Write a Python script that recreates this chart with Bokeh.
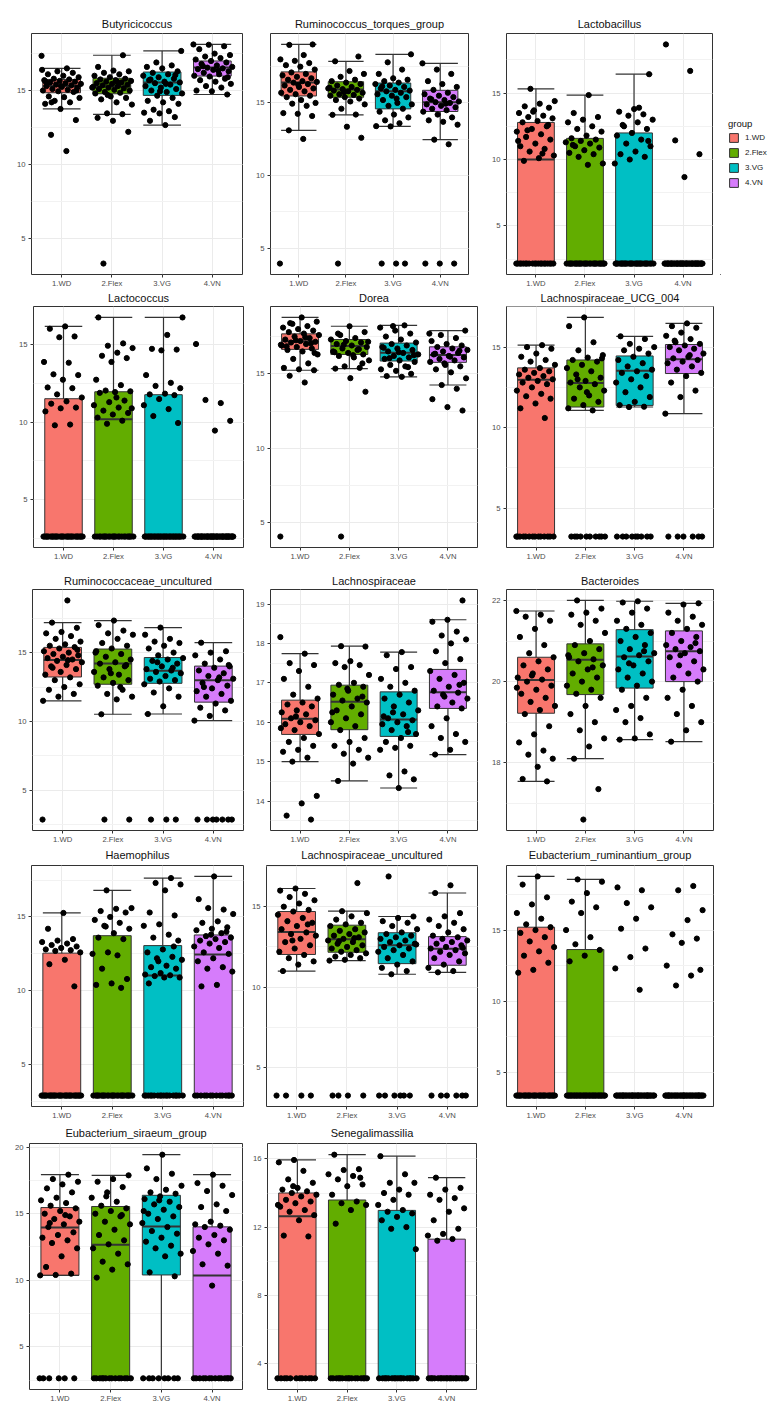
from bokeh.plotting import figure
from bokeh.models import Range1d, FixedTicker, SingleIntervalTicker, ColumnDataSource, Legend, LegendItem
from bokeh.layouts import column, row
from bokeh.embed import file_html
from bokeh.resources import INLINE

GROUPS = ["1.WD", "2.Flex", "3.VG", "4.VN"]
COLORS = ["#F8766D", "#62AD00", "#00BFC4", "#D67CFB"]

# box stats per group: [lower whisker, q1, median, q3, upper whisker]
BUTY_STATS = [[13.75, 14.85, 15.3, 15.75, 16.5], [13.39, 14.78, 15.27, 15.83, 17.39],
              [12.66, 14.67, 15.55, 16.25, 17.68], [14.73, 15.98, 16.56, 17.0, 18.12]]
BUTY_PTS = [
    [17.35, 10.9, 12.0, 13.0, 13.75, 14.1, 14.2, 14.3, 14.5, 14.55, 14.6, 14.9, 14.95, 15.0, 15.05, 15.1, 15.2, 15.25, 15.3, 15.35,
     15.4, 15.45, 15.5, 15.55, 15.6, 15.65, 15.7, 15.75, 15.8, 15.9, 16.0, 16.1, 16.2, 16.3, 16.4, 16.5, 14.2, 15.0, 15.3, 15.6],
    [3.28, 12.2, 12.95, 13.15, 13.4, 13.45, 14.05, 14.2, 14.4, 14.5, 14.6, 14.8, 14.85, 14.9, 15.0, 15.05, 15.1, 15.15, 15.2, 15.25,
     15.3, 15.35, 15.4, 15.45, 15.5, 15.55, 15.6, 15.65, 15.7, 15.75, 15.8, 15.9, 16.0, 16.1, 16.2, 16.3, 16.35, 16.6, 17.39, 14.7, 15.2, 15.6],
    [12.66, 12.95, 13.2, 13.45, 13.5, 13.6, 13.7, 14.1, 14.2, 14.3, 14.5, 14.65, 14.8, 14.9, 15.0, 15.1, 15.2, 15.3, 15.4, 15.5,
     15.55, 15.6, 15.7, 15.8, 15.9, 16.0, 16.1, 16.2, 16.3, 16.5, 16.6, 16.7, 16.9, 17.68, 15.45, 15.75, 16.05, 14.95],
    [14.73, 14.95, 15.0, 15.2, 15.3, 15.45, 15.6, 15.7, 15.8, 15.95, 16.0, 16.1, 16.2, 16.3, 16.4, 16.45, 16.5, 16.55, 16.6, 16.7,
     16.8, 16.9, 17.0, 17.1, 17.2, 17.3, 17.4, 17.5, 17.8, 18.0, 18.1, 18.12, 16.35, 16.65, 15.9],
]

RTOR_STATS = [[13.11, 15.48, 16.41, 17.14, 19.03], [14.18, 15.39, 15.93, 16.46, 17.87],
              [13.38, 14.59, 15.8, 16.37, 18.35], [12.47, 14.41, 15.05, 15.87, 17.73]]
RTOR_PTS = [
    [3.93, 12.52, 13.11, 14.1, 14.25, 14.3, 14.8, 14.95, 15.0, 15.2, 15.4, 15.5, 15.6, 15.7, 15.8, 15.9, 16.0, 16.1, 16.2, 16.3,
     16.4, 16.45, 16.5, 16.6, 16.7, 16.8, 16.9, 17.0, 17.1, 17.3, 17.5, 17.6, 17.75, 17.9, 18.0, 18.3, 19.0, 19.03, 16.25],
    [3.93, 12.6, 13.36, 14.18, 14.2, 14.6, 14.9, 15.1, 15.2, 15.3, 15.4, 15.5, 15.55, 15.6, 15.7, 15.8, 15.85, 15.9, 15.95, 16.0,
     16.1, 16.2, 16.3, 16.4, 16.5, 16.6, 16.8, 17.0, 17.2, 17.87, 18.2, 15.75, 16.05],
    [3.93, 3.93, 3.93, 13.38, 13.4, 13.6, 13.8, 14.0, 14.2, 14.4, 14.6, 14.8, 14.9, 15.0, 15.2, 15.4, 15.5, 15.6, 15.7, 15.8,
     15.85, 15.9, 16.0, 16.1, 16.2, 16.3, 16.4, 16.5, 16.6, 16.7, 17.0, 17.3, 17.8, 18.35, 15.3, 16.15],
    [3.93, 3.93, 3.93, 12.15, 12.47, 13.5, 13.7, 13.8, 14.0, 14.2, 14.4, 14.5, 14.6, 14.7, 14.8, 14.9, 15.0, 15.05, 15.1, 15.2,
     15.3, 15.4, 15.5, 15.6, 15.7, 15.9, 16.1, 16.3, 16.5, 17.0, 17.3, 17.73, 14.95, 15.25],
]

LBAC_STATS = [[2.17, 2.17, 10.0, 12.79, 15.32], [2.17, 2.17, 2.17, 11.59, 14.85],
              [2.17, 2.17, 2.17, 12.0, 16.42], [2.17, 2.17, 2.17, 2.17, 2.17]]
LBAC_PTS = [
    [2.17] * 20 + [15.32, 14.4, 14.2, 14.0, 13.9, 13.7, 13.5, 13.3, 13.2, 13.1, 12.9, 12.8, 12.5, 12.3, 12.1, 11.9, 11.7, 11.5,
                   11.2, 11.0, 10.8, 10.6, 10.3, 10.1, 9.9, 12.6, 13.6, 11.4, 10.45, 12.2],
    [2.17] * 28 + [14.85, 13.5, 13.2, 13.0, 12.8, 12.5, 12.3, 12.1, 11.8, 11.6, 11.5, 11.4, 11.3, 11.2, 11.0, 10.9, 10.7, 10.5,
                   10.4, 10.2, 9.7, 9.6, 11.1],
    [2.17] * 28 + [16.42, 13.8, 13.6, 13.4, 13.3, 13.0, 12.8, 12.6, 12.3, 12.0, 11.8, 11.5, 11.2, 11.0, 10.6, 10.4, 10.2, 10.0,
                   9.7, 13.9, 12.5, 11.4],
    [2.17] * 44 + [18.66, 16.67, 11.44, 10.4, 8.68],
]

LCOC_STATS = [[2.6, 2.6, 2.6, 11.52, 16.2], [2.6, 2.6, 10.19, 11.97, 16.78],
              [2.6, 2.6, 2.6, 11.78, 16.78], [2.6, 2.6, 2.6, 2.6, 2.6]]
LCOC_PTS = [
    [2.6] * 30 + [16.2, 16.05, 15.55, 15.5, 13.9, 13.85, 13.1, 13.05, 12.75, 12.25, 12.2, 11.8, 11.6, 11.35, 11.2, 10.95,
                  10.9, 10.7, 9.85, 9.8],
    [2.6] * 24 + [16.78, 15.1, 14.95, 14.8, 14.5, 14.3, 14.15, 13.9, 12.75, 12.4, 12.05, 12.0, 11.95, 11.9, 11.4, 11.3, 11.1,
                  10.95, 10.75, 10.6, 10.5, 10.3, 10.1, 9.9, 10.9, 11.6],
    [2.6] * 33 + [16.78, 15.65, 14.75, 14.7, 14.65, 13.05, 12.55, 12.35, 12.2, 11.85, 11.8, 11.75, 11.5, 11.1, 10.85, 10.4, 9.95],
    [2.6] * 44 + [15.06, 11.24, 11.44, 10.09, 9.46],
]

DORE_STATS = [[15.24, 16.64, 17.19, 17.68, 18.78], [15.35, 16.3, 16.86, 17.3, 18.19],
              [14.8, 15.86, 16.42, 17.06, 18.25], [14.25, 15.77, 16.26, 16.81, 17.9]]
DORE_PTS = [
    [4.09, 14.42, 14.87, 15.24, 15.3, 15.4, 15.7, 16.0, 16.3, 16.5, 16.6, 16.7, 16.8, 16.9, 17.0, 17.1, 17.15, 17.2, 17.3, 17.4,
     17.5, 17.6, 17.7, 17.8, 17.9, 18.0, 18.1, 18.2, 18.35, 18.5, 18.78, 16.85, 17.05, 17.25, 16.95, 17.45, 18.4, 16.4],
    [4.09, 13.8, 14.71, 15.35, 15.4, 15.5, 15.9, 16.1, 16.2, 16.3, 16.4, 16.5, 16.6, 16.7, 16.8, 16.9, 17.0, 17.1, 17.2, 17.3,
     17.4, 17.6, 17.8, 18.19, 16.45, 16.65, 16.95, 17.15, 16.25, 17.7, 15.7],
    [14.8, 14.85, 15.0, 15.2, 15.3, 15.5, 15.6, 15.8, 15.9, 16.0, 16.1, 16.2, 16.3, 16.4, 16.5, 16.6, 16.7, 16.8, 16.9, 17.0,
     17.1, 17.3, 17.5, 17.7, 17.9, 18.1, 18.25, 16.05, 16.25, 16.45, 16.75, 15.45, 18.2],
    [12.54, 12.77, 13.3, 14.0, 14.25, 14.7, 15.1, 15.3, 15.5, 15.6, 15.8, 15.9, 16.0, 16.1, 16.2, 16.3, 16.4, 16.5, 16.6, 16.7,
     16.8, 16.9, 17.0, 17.2, 17.4, 17.6, 17.9, 16.15, 16.35, 16.55, 15.7, 17.7],
]

UCG4_STATS = [[3.24, 3.24, 12.98, 13.71, 15.12], [11.07, 11.28, 12.77, 14.2, 16.84],
              [11.28, 11.38, 13.53, 14.45, 15.67], [10.87, 13.36, 14.24, 15.16, 16.47]]
UCG4_PTS = [
    [3.24] * 14 + [15.12, 15.0, 14.9, 14.6, 14.4, 14.2, 14.1, 13.9, 13.7, 13.6, 13.5, 13.4, 13.3, 13.2, 13.1, 13.0, 12.9,
                   12.8, 12.7, 12.5, 12.3, 12.1, 11.95, 11.8, 11.5, 11.2, 10.6],
    [3.24] * 10 + [16.84, 16.3, 15.3, 14.8, 14.5, 14.35, 14.2, 14.1, 13.9, 13.7, 13.5, 13.3, 13.1, 12.9, 12.8, 12.7, 12.5,
                   12.3, 12.0, 11.8, 11.6, 11.4, 11.2, 11.07, 13.0, 14.3, 12.2],
    [3.24] * 9 + [15.67, 15.5, 15.2, 15.0, 14.9, 14.8, 14.6, 14.4, 14.2, 14.0, 13.8, 13.6, 13.5, 13.4, 13.2, 13.0, 12.8, 12.5,
                  12.2, 11.9, 11.6, 11.4, 11.3, 11.28],
    [3.24] * 6 + [16.47, 16.3, 16.2, 15.9, 15.7, 15.5, 15.3, 15.2, 15.1, 15.0, 14.9, 14.8, 14.6, 14.4, 14.3, 14.2, 14.1, 14.0,
                  13.8, 13.6, 13.4, 13.2, 12.8, 12.3, 11.9, 10.87, 14.5, 15.4],
]

RUNC_STATS = [[11.5, 13.23, 14.47, 15.38, 17.18], [10.52, 12.7, 14.21, 15.26, 17.33],
              [10.54, 12.77, 13.68, 14.64, 16.82], [10.06, 11.4, 13.0, 14.02, 15.72]]
RUNC_PTS = [
    [2.87, 18.79, 17.18, 16.8, 16.5, 16.4, 16.2, 16.0, 15.8, 15.6, 15.5, 15.4, 15.3, 15.1, 15.0, 14.9, 14.8, 14.7, 14.6, 14.5,
     14.4, 14.3, 14.1, 14.0, 13.8, 13.6, 13.4, 13.2, 13.0, 12.7, 12.5, 12.3, 12.0, 11.8, 11.5, 14.45, 13.9, 15.2],
    [2.87, 2.87, 17.33, 17.0, 16.6, 16.4, 16.3, 16.0, 15.7, 15.5, 15.3, 15.1, 14.9, 14.7, 14.5, 14.3, 14.2, 14.0, 13.8, 13.6,
     13.4, 13.2, 13.0, 12.8, 12.6, 12.3, 12.0, 11.8, 11.6, 10.52, 14.1, 13.5, 15.0, 12.5],
    [2.87, 2.87, 2.87, 16.82, 16.3, 16.0, 15.8, 15.7, 15.5, 15.3, 15.0, 14.8, 14.6, 14.5, 14.4, 14.2, 14.0, 13.8, 13.7, 13.6,
     13.5, 13.3, 13.1, 13.0, 12.9, 12.7, 12.4, 12.1, 11.8, 11.1, 10.54, 13.9, 14.3],
    [2.87] * 7 + [15.72, 15.1, 15.0, 14.8, 14.5, 14.2, 14.0, 13.9, 13.7, 13.5, 13.3, 13.1, 13.0, 12.8, 12.6, 12.4, 12.2, 12.0,
                  11.8, 11.5, 11.3, 11.0, 10.8, 10.4, 10.06, 13.2, 12.5, 14.1],
]

LACH_STATS = [[15.0, 15.69, 16.09, 16.56, 17.74], [14.51, 15.81, 16.52, 16.94, 17.93],
              [14.33, 15.64, 16.07, 16.77, 17.78], [15.18, 16.35, 16.76, 17.34, 18.6]]
LACH_PTS = [
    [18.16, 17.74, 17.5, 17.45, 17.3, 17.1, 16.9, 16.7, 16.6, 16.5, 16.45, 16.4, 16.3, 16.25, 16.2, 16.1, 16.05, 16.0, 15.95,
     15.9, 15.8, 15.7, 15.6, 15.5, 15.4, 15.3, 15.25, 15.1, 15.0, 14.13, 13.94, 13.63, 13.53, 16.15, 15.85],
    [17.93, 17.92, 17.55, 17.5, 17.45, 17.4, 17.2, 17.0, 16.95, 16.9, 16.8, 16.7, 16.6, 16.55, 16.5, 16.4, 16.3, 16.2, 16.1,
     16.0, 15.9, 15.8, 15.6, 15.5, 15.4, 15.3, 15.2, 15.1, 14.95, 14.51, 16.65, 16.85, 16.25],
    [17.78, 17.7, 17.4, 17.35, 17.1, 17.0, 16.9, 16.8, 16.7, 16.6, 16.5, 16.4, 16.3, 16.2, 16.1, 16.05, 16.0, 15.95, 15.9,
     15.8, 15.7, 15.6, 15.5, 15.4, 15.35, 15.3, 14.75, 14.65, 14.55, 14.33, 16.15, 15.75, 16.25],
    [19.09, 18.6, 18.55, 18.3, 18.2, 18.1, 18.0, 17.8, 17.6, 17.5, 17.3, 17.2, 17.1, 17.0, 16.9, 16.8, 16.75, 16.7, 16.6,
     16.5, 16.4, 16.35, 16.1, 15.9, 15.7, 15.6, 15.5, 15.3, 15.18, 16.95, 16.65],
]

BACT_STATS = [[17.54, 19.22, 20.04, 20.6, 21.74], [18.1, 19.68, 20.54, 20.93, 22.0],
              [18.57, 19.84, 20.62, 21.28, 21.98], [18.52, 20.0, 20.75, 21.25, 21.93]]
BACT_PTS = [
    [21.74, 21.65, 21.6, 21.5, 21.3, 21.1, 20.9, 20.7, 20.6, 20.5, 20.4, 20.3, 20.2, 20.1, 20.05, 20.0, 19.9, 19.8, 19.7,
     19.6, 19.5, 19.4, 19.3, 19.2, 18.9, 18.7, 18.5, 18.3, 18.2, 18.1, 17.9, 17.6, 17.54, 20.15, 19.85],
    [22.0, 21.8, 21.7, 21.65, 21.5, 21.4, 21.2, 21.0, 20.9, 20.8, 20.7, 20.6, 20.55, 20.5, 20.4, 20.3, 20.2, 20.1, 20.0,
     19.9, 19.8, 19.7, 19.6, 19.4, 19.2, 19.0, 18.8, 18.6, 18.4, 18.1, 17.35, 16.6, 20.65, 20.35],
    [21.98, 21.95, 21.8, 21.7, 21.5, 21.4, 21.3, 21.2, 21.1, 21.0, 20.9, 20.8, 20.7, 20.65, 20.6, 20.5, 20.4, 20.3, 20.2,
     20.1, 20.0, 19.9, 19.8, 19.6, 19.4, 19.3, 19.1, 19.0, 18.7, 18.6, 18.57, 20.75, 20.45],
    [21.93, 21.9, 21.7, 21.6, 21.5, 21.4, 21.3, 21.2, 21.1, 21.0, 20.9, 20.85, 20.8, 20.75, 20.7, 20.6, 20.5, 20.4, 20.3,
     20.2, 20.1, 20.0, 19.8, 19.6, 19.4, 19.2, 19.0, 18.8, 18.52, 20.95, 20.65],
]

HAEM_STATS = [[2.91, 2.91, 2.91, 12.55, 15.27], [2.91, 2.91, 2.91, 13.73, 16.8],
              [2.91, 2.91, 11.04, 13.06, 17.63], [2.91, 2.91, 12.46, 13.78, 17.74]]
HAEM_PTS = [
    [2.91] * 30 + [15.27, 14.2, 13.5, 13.4, 13.3, 13.2, 13.1, 13.0, 12.9, 12.8, 12.75, 12.7, 12.6, 12.1, 11.8, 10.3],
    [2.91] * 26 + [16.8, 15.6, 15.55, 15.4, 15.3, 15.0, 14.8, 14.6, 14.4, 14.2, 13.9, 13.6, 13.5, 12.6, 12.5, 12.4, 11.5,
                   10.8, 10.5, 10.4, 10.2, 14.35],
    [2.91] * 18 + [17.63, 17.3, 17.2, 16.8, 15.3, 15.1, 14.5, 14.4, 13.8, 13.6, 13.4, 12.8, 12.6, 12.3, 12.2, 12.1, 11.7,
                   11.6, 11.5, 11.2, 11.1, 11.05, 11.0, 10.9, 10.9, 10.5, 13.0, 12.0],
    [2.91] * 14 + [17.74, 16.2, 15.5, 15.6, 15.2, 14.7, 14.6, 14.3, 14.2, 14.1, 13.9, 13.7, 13.6, 13.5, 13.4, 13.3, 13.2,
                   13.0, 12.9, 12.6, 12.5, 12.2, 12.0, 11.6, 11.5, 11.3, 10.4, 10.3, 14.0, 13.8],
]

LUNC_STATS = [[11.0, 12.03, 13.42, 14.7, 16.13], [11.65, 12.17, 12.98, 13.85, 14.72],
              [10.8, 11.46, 12.6, 13.38, 14.39], [10.92, 11.36, 12.39, 13.14, 15.85]]
LUNC_PTS = [
    [3.26] * 4 + [16.13, 16.0, 15.8, 15.6, 15.4, 15.2, 15.0, 14.8, 14.7, 14.5, 14.3, 14.1, 14.0, 13.8, 13.6, 13.4, 13.3,
                  13.2, 13.0, 12.8, 12.6, 12.4, 12.2, 12.0, 11.8, 11.6, 11.4, 11.0, 13.9, 12.9],
    [3.26] * 4 + [16.47, 14.72, 14.6, 14.4, 14.2, 14.0, 13.9, 13.8, 13.6, 13.5, 13.4, 13.3, 13.2, 13.1, 13.0, 12.9, 12.8,
                  12.7, 12.6, 12.5, 12.4, 12.3, 12.2, 12.1, 12.0, 11.9, 11.8, 11.7, 11.65, 13.05, 12.85],
    [3.26] * 6 + [16.88, 14.39, 14.3, 14.1, 14.0, 13.8, 13.6, 13.4, 13.3, 13.2, 13.1, 13.0, 12.9, 12.8, 12.7, 12.6, 12.5,
                  12.4, 12.3, 12.2, 12.0, 11.8, 11.6, 11.4, 11.2, 11.0, 10.8, 12.65],
    [3.26] * 6 + [16.33, 15.85, 14.6, 14.4, 14.2, 14.0, 13.8, 13.6, 13.4, 13.2, 13.1, 13.0, 12.9, 12.8, 12.7, 12.6, 12.5,
                  12.4, 12.3, 12.2, 12.1, 12.0, 11.8, 11.6, 11.4, 11.2, 11.0, 10.92, 12.45],
]

ERUM_STATS = [[3.36, 3.36, 3.36, 15.2, 18.77], [3.36, 3.36, 3.36, 13.63, 18.56],
              [3.36, 3.36, 3.36, 3.36, 3.36], [3.36, 3.36, 3.36, 3.36, 3.36]]
ERUM_PTS = [
    [3.36] * 30 + [18.77, 18.2, 17.3, 16.8, 16.2, 15.8, 15.4, 15.2, 15.0, 14.8, 14.5, 14.2, 13.8, 13.5, 13.2, 12.7, 12.2, 12.0],
    [3.36] * 34 + [18.56, 18.4, 17.6, 17.0, 16.6, 16.2, 15.0, 14.5, 14.0, 13.6, 13.2, 12.8],
    [3.36] * 38 + [18.0, 17.8, 16.9, 16.6, 15.8, 15.1, 13.7, 13.1, 12.3, 10.8],
    [3.36] * 37 + [18.1, 17.8, 16.4, 15.7, 14.7, 14.4, 14.1, 12.5, 11.8, 11.1, 12.2],
]

ESIR_STATS = [[10.37, 10.37, 13.97, 15.46, 17.93], [2.64, 2.64, 12.67, 15.54, 17.88],
              [2.64, 10.4, 14.04, 16.38, 19.43], [2.64, 2.64, 10.35, 14.01, 17.93]]
ESIR_PTS = [
    [2.64] * 6 + [17.93, 17.6, 17.4, 17.2, 16.9, 16.6, 16.2, 16.0, 15.8, 15.6, 15.4, 15.2, 15.0, 14.8, 14.6, 14.4, 14.2,
                  14.0, 13.6, 13.4, 13.2, 13.0, 12.8, 12.4, 11.8, 11.0, 10.5, 10.4, 10.37, 14.9, 14.3],
    [2.64] * 14 + [17.88, 17.6, 17.4, 17.0, 16.6, 16.2, 15.9, 15.6, 15.4, 15.2, 15.0, 14.8, 14.4, 14.2, 13.8, 13.4, 13.0,
                   12.7, 12.4, 12.0, 11.4, 11.2, 10.8, 10.2, 14.9, 16.3],
    [2.64] * 8 + [19.43, 18.4, 18.0, 17.6, 17.1, 16.8, 16.6, 16.5, 16.3, 16.1, 15.9, 15.7, 15.5, 15.3, 15.0, 14.8, 14.6,
                  14.3, 14.0, 13.7, 13.5, 13.2, 12.9, 12.6, 12.4, 12.0, 11.8, 10.6, 10.3, 16.0, 15.2],
    [2.64] * 14 + [17.93, 17.3, 17.1, 16.7, 16.4, 15.7, 15.5, 15.2, 14.4, 14.2, 14.1, 14.0, 13.8, 13.4, 13.2, 13.0, 12.7,
                   12.2, 12.0, 11.2, 11.1, 9.6],
]

SENE_STATS = [[3.12, 3.12, 12.63, 14.0, 15.94], [3.12, 3.12, 3.12, 13.59, 16.25],
              [3.12, 3.12, 3.12, 12.98, 16.16], [3.12, 3.12, 3.12, 11.29, 14.9]]
SENE_PTS = [
    [3.12] * 12 + [15.94, 15.8, 15.3, 14.8, 14.6, 14.3, 14.2, 14.1, 14.0, 13.9, 13.8, 13.6, 13.5, 13.4, 13.2, 13.0, 12.9,
                   12.7, 12.4, 11.5, 11.45, 14.4, 13.3],
    [3.12] * 16 + [16.25, 15.4, 15.35, 15.1, 15.0, 14.8, 14.5, 14.4, 13.9, 13.5, 13.4, 13.3, 13.0, 12.2, 14.9],
    [3.12] * 17 + [16.16, 15.1, 14.6, 14.6, 14.2, 14.0, 13.9, 13.6, 13.3, 13.0, 12.9, 12.8, 12.6, 12.4, 12.0, 11.9, 10.7],
    [3.12] * 20 + [14.9, 14.3, 14.2, 13.9, 13.7, 13.6, 13.1, 12.9, 12.4, 11.9, 11.6, 11.5, 11.3, 11.2],
]

PANELS = [
    [("Butyricicoccus", BUTY_STATS, BUTY_PTS, 5),
     ("Ruminococcus_torques_group", RTOR_STATS, RTOR_PTS, 5),
     ("Lactobacillus", LBAC_STATS, LBAC_PTS, 5)],
    [("Lactococcus", LCOC_STATS, LCOC_PTS, 5),
     ("Dorea", DORE_STATS, DORE_PTS, 5),
     ("Lachnospiraceae_UCG_004", UCG4_STATS, UCG4_PTS, 5)],
    [("Ruminococcaceae_uncultured", RUNC_STATS, RUNC_PTS, 5),
     ("Lachnospiraceae", LACH_STATS, LACH_PTS, 1),
     ("Bacteroides", BACT_STATS, BACT_PTS, 2)],
    [("Haemophilus", HAEM_STATS, HAEM_PTS, 5),
     ("Lachnospiraceae_uncultured", LUNC_STATS, LUNC_PTS, 5),
     ("Eubacterium_ruminantium_group", ERUM_STATS, ERUM_PTS, 5)],
    [("Eubacterium_siraeum_group", ESIR_STATS, ESIR_PTS, 5),
     ("Senegalimassilia", SENE_STATS, SENE_PTS, 4)],
]

# layout (page pixel coordinates): figure y0, y1, frame y0, y1 per row
ROW_Y = [(0, 290, 33, 276), (290, 572, 306, 547), (572, 846, 589, 832),
         (846, 1122, 865, 1108), (1122, 1405, 1143, 1389)]
TITLE_GAP = [4, 1, 2, 5, 5]
# figure x0, x1, frame x0, x1 per panel
COL_X = [
    [(0, 252, 31, 242), (252, 488, 266, 468), (488, 720, 501, 712)],
    [(0, 252, 33, 243), (252, 488, 266, 477), (488, 775, 501, 713)],
    [(0, 252, 32, 243), (252, 488, 266, 477), (488, 775, 502, 713)],
    [(0, 248, 31, 243), (248, 488, 262, 477), (488, 775, 501, 713)],
    [(0, 249, 29, 242), (249, 488, 263, 476)],
]
LEGEND_FIG_W = 55
LEGEND_AT = (8, 86)

FONT = "Liberation Sans"
BOX_W = 0.75
HALF = BOX_W / 2


def jitter_offsets(n, k):
    return [(((i * 0.6180339887) + k * 0.29) % 1.0 - 0.5) * 0.8 for i in range(n)]


def make_panel(title, stats, pts, interval, fx, fy, gap):
    x0, x1, fx0, fx1 = fx
    y0, y1, fy0, fy1 = fy
    allv = [v for g in pts for v in g] + [v for s in stats for v in s]
    lo, hi = min(allv), max(allv)
    pad = 0.05 * (hi - lo)
    p = figure(width=x1 - x0, height=y1 - y0,
               x_range=Range1d(0.4, 4.6), y_range=Range1d(lo - pad, hi + pad),
               output_backend="svg", toolbar_location=None,
               min_border_left=fx0 - x0, min_border_right=x1 - fx1,
               min_border_top=fy0 - y0, min_border_bottom=y1 - fy1,
               title=title)
    p.title.align = "center"
    p.title.vertical_align = "top"
    p.title.text_font = FONT
    p.title.text_font_size = "11px"
    p.title.text_font_style = "normal"
    p.title.text_color = "#111111"
    p.title.standoff = gap
    p.background_fill_color = "white"
    p.border_fill_color = "white"
    p.outline_line_color = "#333333"
    p.outline_line_width = 1

    xs = [1, 2, 3, 4]
    src = ColumnDataSource(dict(
        x=xs, lo=[s[0] for s in stats], q1=[s[1] for s in stats], med=[s[2] for s in stats],
        q3=[s[3] for s in stats], hi=[s[4] for s in stats], color=COLORS,
        left=[x - HALF for x in xs], right=[x + HALF for x in xs]))
    p.segment(x0="x", y0="lo", x1="x", y1="hi", source=src, line_color="#333333", line_width=1.2)
    p.vbar(x="x", width=BOX_W, bottom="q1", top="q3", source=src,
           fill_color="color", line_color="#333333", line_width=1)
    p.segment(x0="left", y0="med", x1="right", y1="med", source=src, line_color="#333333", line_width=2)
    p.segment(x0="left", y0="lo", x1="right", y1="lo", source=src, line_color="#333333", line_width=1.2)
    p.segment(x0="left", y0="hi", x1="right", y1="hi", source=src, line_color="#333333", line_width=1.2)

    px, py = [], []
    for k, g in enumerate(pts):
        offs = jitter_offsets(len(g), k)
        px += [xs[k] + o for o in offs]
        py += list(g)
    p.scatter(px, py, size=5.2, color="black")

    p.xaxis.ticker = FixedTicker(ticks=xs)
    p.xaxis.major_label_overrides = {x: g for x, g in zip(xs, GROUPS)}
    yt = SingleIntervalTicker(interval=interval, num_minor_ticks=2)
    p.yaxis.ticker = yt
    p.ygrid.ticker = yt
    for ax in (p.xaxis[0], p.yaxis[0]):
        ax.axis_line_color = None
        ax.major_tick_line_color = "#333333"
        ax.major_tick_in = 0
        ax.major_tick_out = 3
        ax.minor_tick_line_color = None
        ax.major_label_text_font = FONT
        ax.major_label_text_font_size = "7.7px"
        ax.major_label_text_color = "#4D4D4D"
        ax.major_label_standoff = 2
    p.xaxis[0].major_label_standoff = 1
    p.xgrid.grid_line_color = "#EBEBEB"
    p.ygrid.grid_line_color = "#EBEBEB"
    p.ygrid.minor_grid_line_color = "#F2F2F2"
    p.xgrid.grid_line_width = 1
    p.ygrid.grid_line_width = 1
    return p


def make_legend_fig(height):
    # a small axis-less figure that only carries the "group" legend
    p = figure(width=LEGEND_FIG_W, height=height, x_range=Range1d(0, 1), y_range=Range1d(0, 1),
               x_axis_type=None, y_axis_type=None, output_backend="svg", toolbar_location=None,
               min_border=0, outline_line_color=None)
    p.grid.visible = False
    items = []
    for g, c in zip(GROUPS, COLORS):
        # legend-only renderer: its single bar sits outside the visible range
        r = p.vbar(x=[-5], top=[-5], bottom=[-6], width=0.5, fill_color=c, line_color="#333333", line_width=1)
        items.append(LegendItem(label=g, renderers=[r]))
    leg = Legend(items=items, title="group", location=LEGEND_AT,
                 margin=0, padding=0, spacing=4,
                 glyph_width=11, glyph_height=11, label_height=11, label_standoff=6,
                 label_text_font=FONT, label_text_font_size="8px", label_text_color="#222222",
                 title_text_font=FONT, title_text_font_size="9.5px", title_text_font_style="normal",
                 title_text_color="#111111",
                 title_standoff=3, border_line_color=None, background_fill_alpha=0)
    p.add_layout(leg, "center")
    return p


rows = []
for r, panel_row in enumerate(PANELS):
    figs = []
    for c, (title, stats, pts, interval) in enumerate(panel_row):
        figs.append(make_panel(title, stats, pts, interval, COL_X[r][c], ROW_Y[r], TITLE_GAP[r]))
    if r == 0:
        figs.append(make_legend_fig(ROW_Y[0][1] - ROW_Y[0][0]))
    rows.append(row(*figs))
layout = column(*rows)

open("out.html", "w").write(file_html(layout, INLINE))
